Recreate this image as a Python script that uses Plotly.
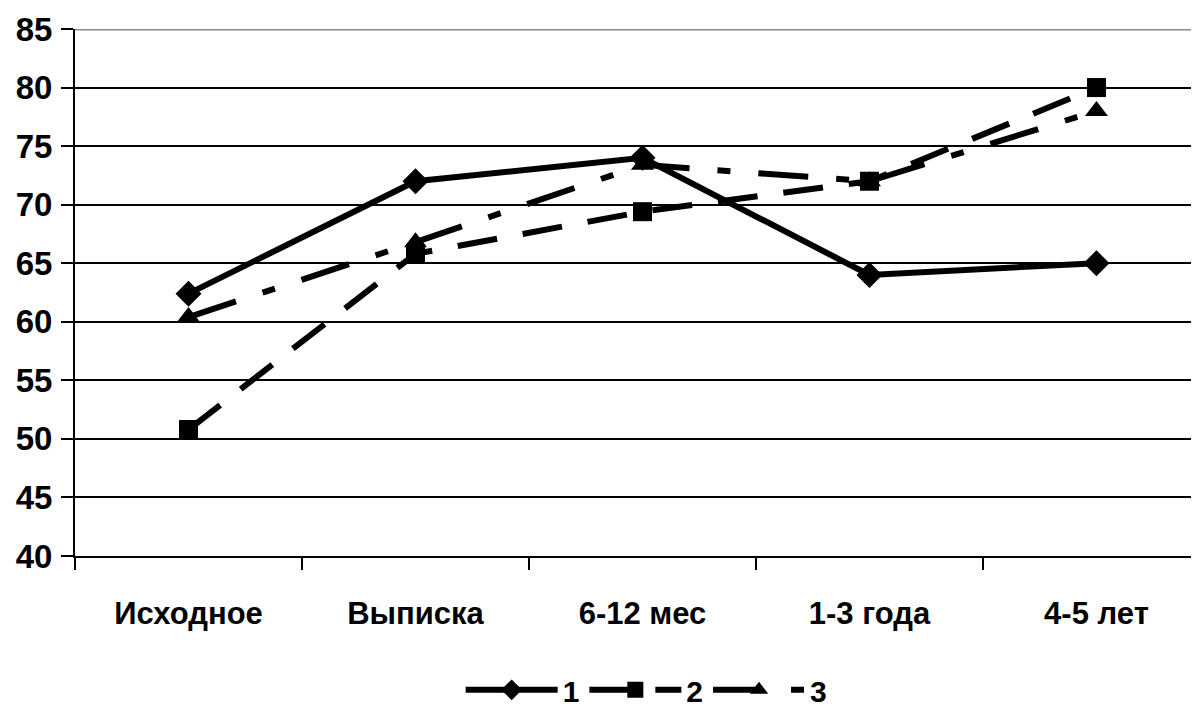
import plotly.graph_objects as go

categories = ["Исходное", "Выписка", "6-12 мес", "1-3 года", "4-5 лет"]
series_names = ["1", "2", "3"]
s1 = [62.4, 72.0, 74.0, 64.0, 65.0]
s2 = [50.8, 65.8, 69.4, 72.0, 80.0]
s3 = [60.4, 66.8, 73.4, 72.0, 78.0]
y_ticks = [40, 45, 50, 55, 60, 65, 70, 75, 80, 85]

FONT = "Liberation Sans, Arial, sans-serif"

fig = go.Figure()
styles = [
    (s1, "solid", "diamond", 20),
    (s2, "40px,26px", "square", 19),
    (s3, "50px,28px,13px,28px", "triangle-up", 20),
]
for name, (vals, dash, sym, ms) in zip(series_names, styles):
    fig.add_trace(go.Scatter(
        x=categories, y=vals, name=name, mode="lines+markers",
        line=dict(color="black", width=6, dash=dash),
        marker=dict(symbol=sym, size=ms, color="black"),
    ))

fig.update_layout(
    width=1199, height=711,
    paper_bgcolor="white", plot_bgcolor="white",
    margin=dict(l=67, r=0, t=21, b=163),
    font=dict(family=FONT, size=24, color="black"),
    showlegend=True,
    legend=dict(orientation="h", x=0.505, xanchor="center", y=-0.254, yanchor="middle",
                font=dict(family=FONT, size=30, color="black", weight="bold"),
                itemwidth=92, tracegroupgap=0),
    xaxis=dict(
        type="category", range=[-0.5, 4.487], automargin=False,
        showgrid=False, showline=True, linecolor="black", linewidth=2,
        ticks="outside", tickson="boundaries", ticklen=12, tickwidth=2, tickcolor="black",
        tickfont=dict(family=FONT, size=31, color="black", weight="bold"),
        ticklabelstandoff=29,
    ),
    yaxis=dict(
        range=[40, 85], tickvals=y_ticks, automargin=False,
        showgrid=True, gridcolor="black", gridwidth=2,
        showline=True, linecolor="black", linewidth=2,
        ticks="outside", ticklen=12, tickwidth=2, tickcolor="black",
        tickfont=dict(family=FONT, size=33, color="black", weight="bold"),
        ticklabelstandoff=2,
        zeroline=False,
    ),
    shapes=[dict(type="line", xref="paper", yref="y", x0=0, x1=1, y0=85, y1=85,
                 line=dict(color="#8c8c8c", width=3), layer="above")],
)
fig.write_html("out.html")
